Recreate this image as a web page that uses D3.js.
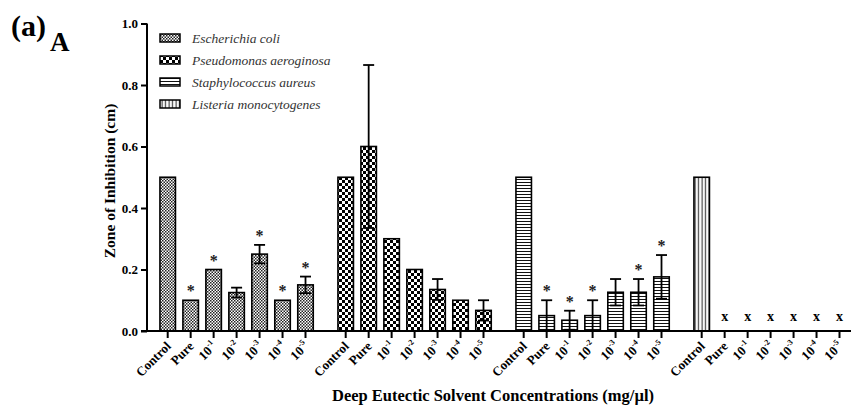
<!DOCTYPE html>
<html>
<head>
<meta charset="utf-8">
<script src="https://cdn.jsdelivr.net/npm/d3@7"></script>
<style>
  body { margin: 0; background: #fff; }
  svg { display: block; }
  svg text { font-family: "Liberation Serif", "DejaVu Serif", serif; }
</style>
</head>
<body>
<svg width="851" height="406"></svg>
<script>
// ---- data ----
const species = ["Escherichia coli", "Pseudomonas aeroginosa", "Staphylococcus aureus", "Listeria monocytogenes"];
const concLabels = ["Control", "Pure", "10^-1", "10^-2", "10^-3", "10^-4", "10^-5"];
const yTicks = [0, 0.2, 0.4, 0.6, 0.8, 1.0];

const ecoliMean = [0.5, 0.1, 0.2, 0.125, 0.25, 0.1, 0.15];
const ecoliErr  = [0, 0, 0, 0.016, 0.03, 0, 0.027];
const ecoliSig  = [0, 1, 1, 0, 1, 1, 1];

const paerMean = [0.5, 0.6, 0.3, 0.2, 0.135, 0.1, 0.067];
const paerErr  = [0, 0.265, 0, 0, 0.034, 0, 0.033];
const paerSig  = [0, 0, 0, 0, 0, 0, 0];

const saurMean = [0.5, 0.05, 0.035, 0.05, 0.126, 0.126, 0.176];
const saurErr  = [0, 0.05, 0.031, 0.05, 0.043, 0.043, 0.071];
const saurSig  = [0, 1, 1, 1, 0, 1, 1];

const listMean = [0.5, 0, 0, 0, 0, 0, 0];
const listErr  = [0, 0, 0, 0, 0, 0, 0];
const listSig  = [0, 0, 0, 0, 0, 0, 0];
const listNoZone = [0, 1, 1, 1, 1, 1, 1]; // drawn as "x"

const seriesMeans = [ecoliMean, paerMean, saurMean, listMean];
const seriesErrs = [ecoliErr, paerErr, saurErr, listErr];
const seriesSigs = [ecoliSig, paerSig, saurSig, listSig];
const groupGap = 0.75; // extra slots between species groups

// flatten into rows
const rows = [];
species.forEach((sp, g) => {
  concLabels.forEach((c, i) => {
    rows.push({
      g: g, i: i, species: sp, label: c,
      slot: g * (concLabels.length + groupGap) + i,
      mean: seriesMeans[g][i], err: seriesErrs[g][i], sig: seriesSigs[g][i],
      none: g === 3 ? listNoZone[i] : 0
    });
  });
});

const svg = d3.select("svg");

// ---- patterns ----
const defs = svg.append("defs");
const pEc = defs.append("pattern").attr("id", "pat0").attr("patternUnits", "userSpaceOnUse").attr("width", 3).attr("height", 3);
pEc.append("rect").attr("width", 3).attr("height", 3).attr("fill", "#fff");
pEc.append("rect").attr("width", 1.5).attr("height", 1.5).attr("fill", "#222");
pEc.append("rect").attr("x", 1.5).attr("y", 1.5).attr("width", 1.5).attr("height", 1.5).attr("fill", "#222");

const pPa = defs.append("pattern").attr("id", "pat1").attr("patternUnits", "userSpaceOnUse").attr("width", 6).attr("height", 6);
pPa.append("rect").attr("width", 6).attr("height", 6).attr("fill", "#fff");
pPa.append("rect").attr("width", 3).attr("height", 3).attr("fill", "#000");
pPa.append("rect").attr("x", 3).attr("y", 3).attr("width", 3).attr("height", 3).attr("fill", "#000");

const pSa = defs.append("pattern").attr("id", "pat2").attr("patternUnits", "userSpaceOnUse").attr("width", 3).attr("height", 3);
pSa.append("rect").attr("width", 3).attr("height", 3).attr("fill", "#fff");
pSa.append("rect").attr("y", 2).attr("width", 3).attr("height", 1).attr("fill", "#111");

const pLm = defs.append("pattern").attr("id", "pat3").attr("patternUnits", "userSpaceOnUse").attr("width", 3.5).attr("height", 3.5);
pLm.append("rect").attr("width", 3.5).attr("height", 3.5).attr("fill", "#fff");
pLm.append("rect").attr("x", 1.5).attr("width", 1.2).attr("height", 3.5).attr("fill", "#444");

// ---- scales ----
const lastSlot = (species.length - 1) * (concLabels.length + groupGap) + concLabels.length - 1;
const x = d3.scaleLinear().domain([0, lastSlot]).range([167.7, 839.5]);
const y = d3.scaleLinear().domain([0, 1]).range([331, 23.5]);
const barW = 15.5;
const capW = 11;

// ---- bars ----
svg.append("g").selectAll("rect")
  .data(rows.filter(d => d.mean > 0))
  .enter()
  .append("rect")
  .attr("x", d => x(d.slot) - barW / 2)
  .attr("y", d => y(d.mean))
  .attr("width", barW)
  .attr("height", d => y(0) - y(d.mean))
  .attr("fill", d => "url(#pat" + d.g + ")")
  .attr("stroke", "#000")
  .attr("stroke-width", 1.6);

// ---- error bars ----
const eb = svg.append("g").attr("stroke", "#000").attr("stroke-width", 1.8)
  .selectAll("g")
  .data(rows.filter(d => d.err > 0))
  .enter()
  .append("g");
eb.append("line")
  .attr("x1", d => x(d.slot)).attr("x2", d => x(d.slot))
  .attr("y1", d => y(d.mean - d.err)).attr("y2", d => y(d.mean + d.err));
eb.append("line")
  .attr("x1", d => x(d.slot) - capW / 2).attr("x2", d => x(d.slot) + capW / 2)
  .attr("y1", d => y(d.mean + d.err)).attr("y2", d => y(d.mean + d.err));
eb.append("line")
  .attr("x1", d => x(d.slot) - capW / 2).attr("x2", d => x(d.slot) + capW / 2)
  .attr("y1", d => y(d.mean - d.err)).attr("y2", d => y(d.mean - d.err));

// ---- significance stars ----
svg.append("g").selectAll("text")
  .data(rows.filter(d => d.sig))
  .enter()
  .append("text")
  .attr("x", d => x(d.slot))
  .attr("y", d => y(d.mean + d.err) - 4)
  .attr("text-anchor", "middle")
  .attr("font-size", 16)
  .attr("font-weight", "bold")
  .attr("fill", "#222")
  .text("*");

// ---- "x" for no inhibition ----
svg.append("g").selectAll("text")
  .data(rows.filter(d => d.none))
  .enter()
  .append("text")
  .attr("x", d => x(d.slot))
  .attr("y", y(0) - 10)
  .attr("text-anchor", "middle")
  .attr("font-size", 14)
  .attr("font-weight", "bold")
  .text("x");

// ---- axes ----
const yAxis = svg.append("g")
  .attr("transform", "translate(147,0)")
  .call(d3.axisLeft(y).tickValues(yTicks).tickFormat(d3.format(".1f")).tickSize(6).tickPadding(3));
yAxis.attr("font-family", null);
yAxis.select(".domain").attr("d", "M0," + y(1) + "V" + y(0)).attr("stroke-width", 2);
yAxis.selectAll(".tick line").attr("stroke-width", 2);
yAxis.selectAll("text").attr("font-size", 13).attr("font-weight", "bold");

svg.append("line")
  .attr("x1", 141).attr("x2", 851)
  .attr("y1", y(0)).attr("y2", y(0))
  .attr("stroke", "#000").attr("stroke-width", 2);

const xt = svg.append("g").selectAll("g")
  .data(rows)
  .enter()
  .append("g")
  .attr("transform", d => "translate(" + x(d.slot) + "," + y(0) + ")");
xt.append("line").attr("y1", 0).attr("y2", 7).attr("stroke", "#000").attr("stroke-width", 2);
const xl = xt.append("text")
  .attr("transform", "translate(4,16) rotate(-45)")
  .attr("text-anchor", "end")
  .attr("font-size", 13)
  .attr("font-weight", "bold");
xl.each(function (d) {
  const t = d3.select(this);
  if (d.label.indexOf("^") >= 0) {
    const parts = d.label.split("^");
    t.append("tspan").text(parts[0]);
    t.append("tspan").attr("dy", -6).attr("font-size", 8).text(parts[1]);
  } else {
    t.text(d.label);
  }
});

// ---- axis titles ----
svg.append("text")
  .attr("transform", "translate(115,181) rotate(-90)")
  .attr("text-anchor", "middle")
  .attr("font-size", 15.5)
  .attr("font-weight", "bold")
  .text("Zone of Inhibition (cm)");

svg.append("text")
  .attr("x", 493).attr("y", 401)
  .attr("text-anchor", "middle")
  .attr("font-size", 16.5)
  .attr("font-weight", "bold")
  .text("Deep Eutectic Solvent Concentrations (mg/\u00b5l)");

// ---- panel label ----
svg.append("text").attr("x", 11).attr("y", 36).attr("font-size", 30).attr("font-weight", "bold").text("(a)");
svg.append("text").attr("x", 50).attr("y", 51).attr("font-size", 27).attr("font-weight", "bold").text("A");

// ---- legend ----
const lg = svg.append("g").selectAll("g")
  .data(species)
  .enter()
  .append("g")
  .attr("transform", (d, i) => "translate(160," + (38 + i * 22) + ")");
lg.append("rect")
  .attr("x", 0).attr("y", -4).attr("width", 20).attr("height", 8)
  .attr("fill", (d, i) => "url(#pat" + i + ")")
  .attr("stroke", "#000").attr("stroke-width", 1.5);
lg.append("text")
  .attr("x", 32).attr("y", 4.5)
  .attr("font-size", 13.5)
  .attr("font-style", "italic")
  .attr("fill", "#333")
  .text(d => d);
</script>
</body>
</html>
